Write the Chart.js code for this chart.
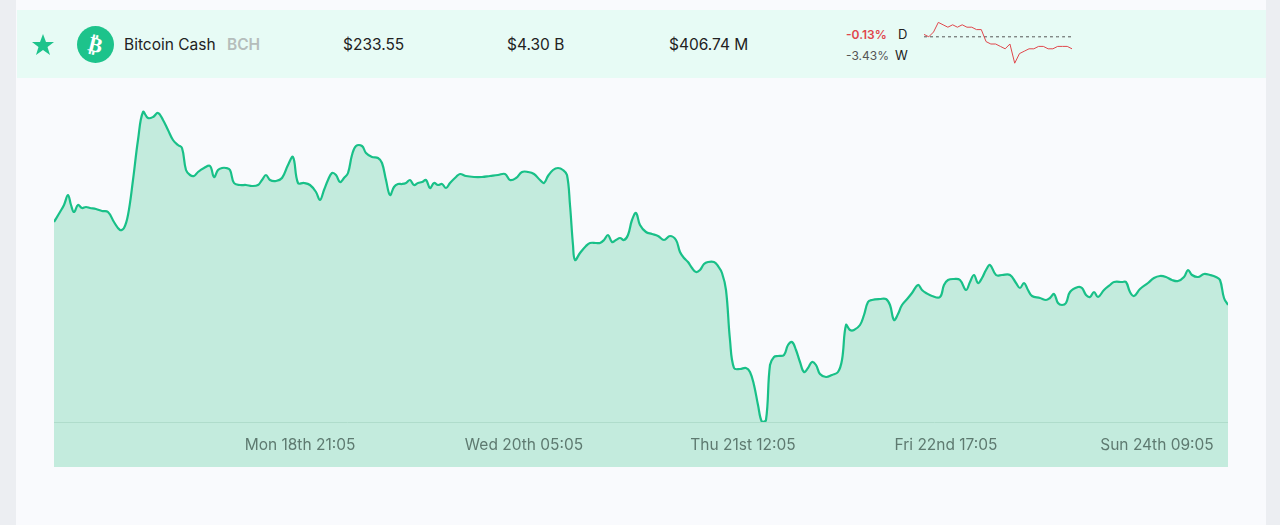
<!DOCTYPE html>
<html><head><meta charset="utf-8">
<script src="https://cdn.jsdelivr.net/npm/chart.js@4.4.1/dist/chart.umd.min.js"></script>
<style>
body{margin:0;width:1280px;height:525px;background:#f9fafd;font-family:Inter,"Open Sans",sans-serif;overflow:hidden;position:relative}
#lstrip{position:absolute;left:0;top:0;width:16px;height:525px;background:#eceef2}
#rstrip{position:absolute;left:1266px;top:0;width:14px;height:525px;background:#eceef2}
#row{position:absolute;left:17px;top:10px;width:1249px;height:68px;background:#e7fbf5}
.t{position:absolute;font-size:15.5px;color:#222;top:35px}
#main{position:absolute;left:0;top:0}
#spark{position:absolute;left:920px;top:18px}
</style></head><body>
<div id="lstrip"></div><div id="rstrip"></div><div id="row"></div>
<svg style="position:absolute;left:31px;top:33px" width="24" height="24" viewBox="0 0 24 24"><polygon fill="#1dc38b" points="12,1 15,9 23,9 16.5,14 19,22 12,17 5,22 7.5,14 1,9 9,9"/></svg>
<svg style="position:absolute;left:77px;top:26px" width="37" height="37"><circle cx="18.5" cy="18.5" r="18.5" fill="#1dc38b"/><text x="18.5" y="26" text-anchor="middle" font-size="21" font-weight="bold" fill="#fff" font-family="DejaVu Sans" transform="rotate(14 18.5 18.5)">₿</text></svg>
<div class="t" style="left:124px">Bitcoin Cash <span style="color:#b5bdbb;font-weight:600;margin-left:7px">BCH</span></div>
<div class="t" style="left:343px">$233.55</div>
<div class="t" style="left:507px">$4.30 B</div>
<div class="t" style="left:669px">$406.74 M</div>
<div style="position:absolute;left:846px;top:27px;font-size:12px;color:#e0474c;font-weight:600">-0.13%</div>
<div style="position:absolute;left:898px;top:26px;font-size:13px;color:#222">D</div>
<div style="position:absolute;left:846px;top:48px;font-size:12px;color:#555">-3.43%</div>
<div style="position:absolute;left:895px;top:47px;font-size:13px;color:#222">W</div>
<canvas id="main" width="1280" height="525"></canvas>
<canvas id="spark" width="155" height="52"></canvas>
<script>
const xs=[0,6,10,14,17,20,24,28,32,36,42,48,54,60,66,70,74,79,84,89,94,99,104,109,114,119,124,128,132,136,140,144,150,156,160,164,168,172,176,180,186,192,198,204,208,212,216,222,228,234,239,244,250,256,262,266,270,274,278,282,286,290,294,298,302,308,312,318,324,328,332,336,340,344,348,352,356,360,364,368,372,376,380,384,388,392,396,402,406,412,420,428,436,444,451,456,462,468,474,480,486,490,494,499,504,509,513,516,519,521,526,532,536,542,546,550,554,558,562,566,570,574,578,582,586,592,598,604,610,616,622,626,630,634,638,642,646,650,654,660,664,668,672,676,680,686,692,696,700,704,708,712,716,720,724,730,734,738,742,746,750,754,758,762,766,772,778,784,788,792,796,800,806,810,814,818,826,832,836,840,844,848,854,858,864,868,872,878,886,890,894,900,906,912,916,920,924,928,932,936,942,948,956,962,966,970,974,978,986,992,996,1000,1004,1008,1012,1016,1024,1028,1032,1036,1040,1044,1050,1056,1060,1068,1072,1076,1080,1086,1094,1100,1106,1112,1118,1124,1130,1134,1138,1144,1150,1156,1162,1166,1170,1174];
const prices=[237.8,238.8,239.5,240.5,239.5,238.8,239.5,239.2,239.3,239.2,239.1,238.9,238.8,237.8,237.0,237.2,238.5,242.0,246.0,248.8,248.2,248.3,248.7,248.0,247.0,246.0,245.5,245.2,243.0,242.5,242.4,242.8,243.2,243.4,242.3,243.0,243.2,243.2,243.0,241.7,241.5,241.5,241.4,241.5,242.0,242.5,242.0,241.9,242.2,243.5,244.3,241.7,241.7,241.5,240.8,240.0,241.0,242.0,242.7,242.5,241.8,242.2,242.7,244.5,245.4,245.4,244.7,244.3,244.2,243.7,242.0,240.5,241.3,241.6,241.6,241.7,242.0,241.5,241.7,241.8,242.0,241.2,241.7,241.5,241.6,241.2,241.7,242.3,242.6,242.4,242.3,242.3,242.4,242.5,242.6,242.0,242.2,242.8,242.8,242.6,242.0,241.7,242.4,243.0,243.2,243.0,242.5,239.5,235.5,234.0,234.7,235.4,235.7,235.7,235.7,236.0,236.5,235.8,236.0,236.2,236.0,236.5,238.0,238.7,237.5,236.8,236.6,236.4,236.0,236.4,236.0,234.8,234.2,233.8,233.2,232.8,233.0,233.6,233.8,233.8,233.4,232.7,231.0,226.0,223.2,223.1,223.2,222.8,221.5,219.5,217.8,218.0,223.5,224.3,224.4,224.5,225.5,225.8,225.0,223.8,222.8,223.2,223.8,223.5,222.6,222.3,222.5,222.8,224.0,227.5,227.0,227.0,227.5,228.5,229.8,230.0,230.1,230.1,229.5,228.0,228.6,229.5,230.2,230.7,231.5,231.0,230.7,230.4,230.3,231.5,232.0,232.1,232.0,231.0,231.8,232.5,231.7,232.2,233.0,233.5,232.5,232.5,232.5,231.7,231.2,231.7,231.0,230.4,230.2,230.0,230.2,230.6,229.7,229.5,229.7,230.8,231.3,231.2,230.5,230.3,230.8,230.3,231.0,231.5,231.8,231.8,231.8,230.8,230.4,231.1,231.7,232.2,232.4,232.3,232.0,231.9,232.3,233.0,232.5,232.3,232.6,232.5,232.3,232.0,230.2,229.5,230.2];
const tickVals=[246,470,689,892,1103];
const tickLabels=['Mon 18th 21:05','Wed 20th 05:05','Thu 21st 12:05','Fri 22nd 17:05','Sun 24th 09:05'];
const sparkVals=[50,49,51,55,54,53,54,53,54,53,53,52,52,47,46,46,45,44,46,38,42,43,44,44,45,45,44,44,45,45,45,44];
const sparkBase=[49,49,49,49,49,49,49,49,49,49,49,49,49,49,49,49,49,49,49,49,49,49,49,49,49,49,49,49,49,49,49,49];

const below={id:'below',beforeDatasetsDraw(c){const a=c.chartArea,x=c.ctx;x.save();x.fillStyle='#c3ebdd';x.fillRect(a.left,a.bottom,a.right-a.left,45);x.strokeStyle='#afdccb';x.lineWidth=1;x.beginPath();x.moveTo(a.left,a.bottom+0.5);x.lineTo(a.right,a.bottom+0.5);x.stroke();x.restore();},
afterDatasetsDraw(c){const x=c.ctx,s=c.scales.x;x.save();x.font='15.5px Inter, "Open Sans", sans-serif';x.fillStyle='#5e7a70';x.textAlign='center';x.textBaseline='middle';tickVals.forEach((v,i)=>x.fillText(tickLabels[i],s.getPixelForValue(v),c.chartArea.bottom+23));x.restore();}};
new Chart(document.getElementById('main'),{type:'line',
data:{datasets:[{data:xs.map((v,i)=>({x:v,y:prices[i]})),borderColor:'#19c088',borderWidth:2.2,backgroundColor:'#c3ebdd',fill:'start',tension:0.4,pointRadius:0}]},
options:{responsive:false,animation:false,layout:{padding:{left:54,right:52,top:100,bottom:103}},
scales:{x:{type:'linear',min:0,max:1174,display:false},y:{min:217.8,max:250,display:false}},
plugins:{legend:{display:false},tooltip:{enabled:false}}},plugins:[below]});
new Chart(document.getElementById('spark'),{type:'line',
data:{labels:sparkVals.map((_,i)=>i),datasets:[{data:sparkVals,borderColor:'#e0474c',borderWidth:1,pointRadius:0,tension:0},{data:sparkBase,borderColor:'#555',borderWidth:1,borderDash:[3,3],pointRadius:0}]},
options:{responsive:false,animation:false,layout:{padding:{left:4,right:3,top:2,bottom:2}},scales:{x:{display:false},y:{display:false,min:36,max:56}},plugins:{legend:{display:false},tooltip:{enabled:false}}}});
</script></body></html>
